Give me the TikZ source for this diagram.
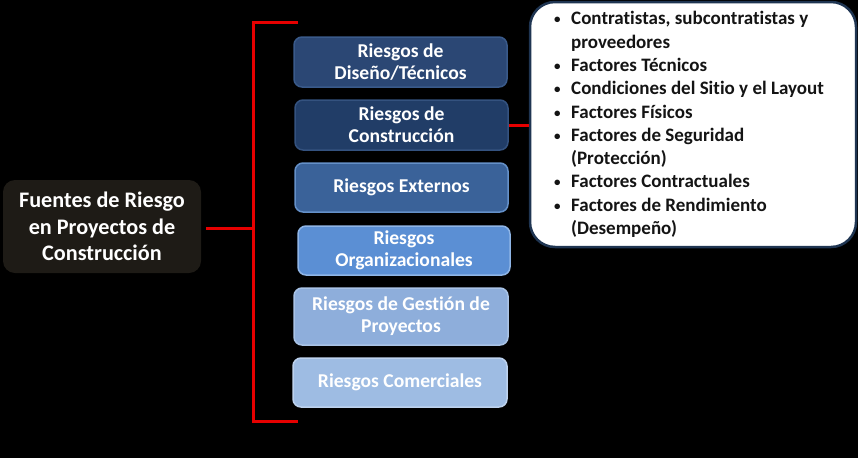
\documentclass[tikz,border=0pt]{standalone}
\usepackage{fontspec}
\setmainfont{Carlito}[Ligatures=CommonOff]
\definecolor{bgc}{HTML}{000000}
\definecolor{leftc}{HTML}{1E1B16}
\definecolor{boxa}{HTML}{2B4774}
\definecolor{boxaB}{HTML}{3A5A8A}
\definecolor{boxb}{HTML}{213D67}
\definecolor{boxbB}{HTML}{34527F}
\definecolor{boxc}{HTML}{3A6299}
\definecolor{boxcB}{HTML}{6490C8}
\definecolor{boxd}{HTML}{5B8FD4}
\definecolor{boxdB}{HTML}{8FB5E6}
\definecolor{boxe}{HTML}{8EAEDB}
\definecolor{boxeB}{HTML}{A9C3E6}
\definecolor{boxf}{HTML}{9EBCE3}
\definecolor{boxfB}{HTML}{BDD2EE}
\definecolor{calloutB}{HTML}{1F3552}
\definecolor{redc}{HTML}{E60000}
\definecolor{txtc}{HTML}{141414}
\newcommand{\bul}{\makebox[17pt][l]{\raisebox{1pt}{\fontsize{13}{13}\selectfont•}}}
\newcommand{\ind}{\hspace*{17pt}}
\tikzset{
  riskbox/.style={rounded corners=8pt, line width=1.5pt, text=white,
    font=\fontsize{19.6}{22}\selectfont\bfseries, align=center,
    minimum width=213pt, inner sep=0pt},
  redline/.style={draw=redc, line width=3pt},
}
\begin{document}
\begin{tikzpicture}[x=1pt,y=-1pt]
\fill[bgc] (0,0) rectangle (858,458);
\useasboundingbox (0,0) rectangle (858,458);

\node[rounded corners=12pt, fill=leftc, text=white, align=center,
  minimum width=198pt, minimum height=93pt, inner sep=0pt,
  font=\fontsize{22.2}{26.5}\selectfont\bfseries] (L) at (102,226.5)
  {Fuentes de Riesgo\\en Proyectos de\\Construcción};

\node[riskbox, fill=boxa, draw=boxaB, minimum height=50pt] (B1) at (400.5,62) {Riesgos de\\Diseño/Técnicos};
\node[riskbox, fill=boxb, draw=boxbB, minimum height=50pt] (B2) at (401.5,125) {Riesgos de\\Construcción};
\node[riskbox, fill=boxc, draw=boxcB, minimum height=49pt] (B3) at (401.5,187.5) {Riesgos Externos};
\node[riskbox, fill=boxd, draw=boxdB, minimum height=49pt, minimum width=212pt] (B4) at (404,250.5) {Riesgos\\Organizacionales};
\node[riskbox, fill=boxe, draw=boxeB, minimum height=57pt, minimum width=214pt] (B5) at (401,316.5) {Riesgos de Gestión de\\Proyectos};
\node[riskbox, fill=boxf, draw=boxfB, minimum height=49pt, minimum width=214pt] (B6) at (400,382.5) {Riesgos Comerciales};

\node[rounded corners=25pt, fill=white, draw=calloutB, line width=2.5pt,
  minimum width=326pt, minimum height=245pt, inner sep=0pt,
  text=txtc, align=left,
  font=\fontsize{19}{23.3}\selectfont\bfseries] (C) at (693,124.5)
  {\bul Contratistas, subcontratistas y\\
   \ind proveedores\\
   \bul Factores Técnicos\\
   \bul Condiciones del Sitio y el Layout\rlap{}\hspace*{8pt}\mbox{}\\
   \bul Factores Físicos\\
   \bul Factores de Seguridad\\
   \ind (Protección)\\
   \bul Factores Contractuales\\
   \bul Factores de Rendimiento\\
   \ind (Desempeño)};

\coordinate (btop) at (298,22);
\coordinate (bbot) at (298,421);
\coordinate (bx) at (253,228);
\draw[redline] (btop) -- (btop -| bx) -- (bbot -| bx) -- (bbot);
\draw[redline] ([xshift=5pt]L.east |- bx) -- (bx);
\draw[redline] (B2.east) -- (B2.east -| C.west);
\end{tikzpicture}
\end{document}
